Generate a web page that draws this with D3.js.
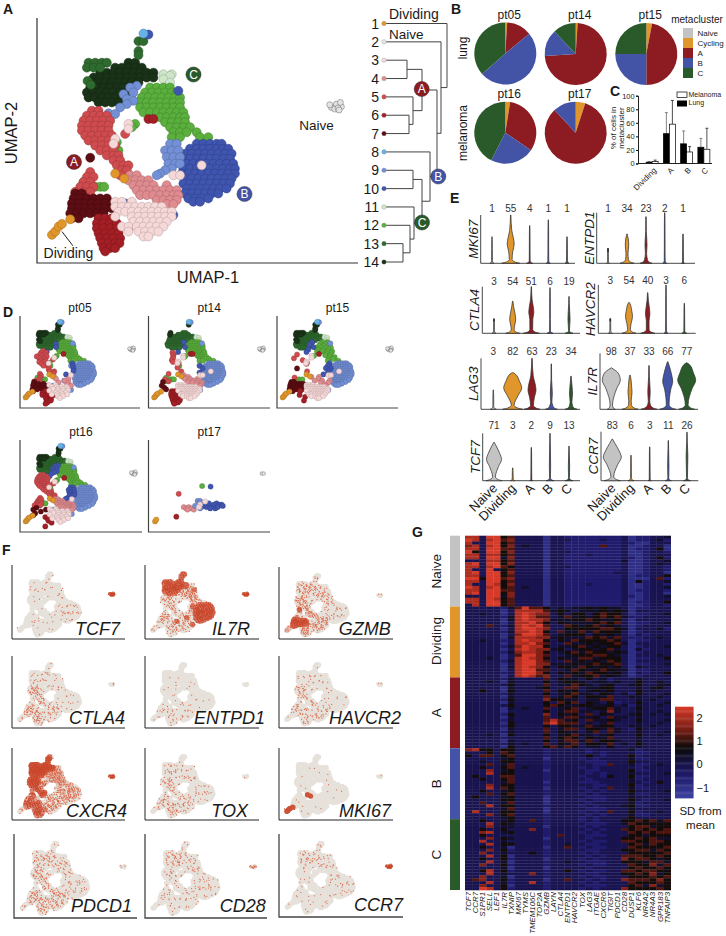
<!DOCTYPE html>
<html><head><meta charset="utf-8">
<script src="https://cdn.jsdelivr.net/npm/d3@7/dist/d3.min.js"></script>
<style>html,body{margin:0;padding:0;background:#fff}svg{display:block}text{font-family:"Liberation Sans",Arial,sans-serif;fill:#1a1a1a}</style>
</head><body><div id="c"></div>
<script>
// ---------- DATA ----------
const clusterColors=["#e0962a","#e4e4e4","#f6d8d8","#df8b8f","#cf4b4e","#a31f25","#5d0e14","#67b2e8","#7390d6","#3f55b0","#cfe6c8","#5aaf3d","#2f6a2f","#1a3318"];
// UMAP cells per cluster, as rows: [umap2, umap1, umap1, ...]
const cluster1=[[705,155],[695,165],[680,175],[672,185],[658,210],[520,345],[535,372]];
const cluster2=[[320,995],[310,1010],[318,1025],[325,1005],[305,1022],[322,1015],[312,990],[328,1018]];
const cluster3=[[370,385],[385,385],[415,345],[430,340],[495,605],[525,520,540],[605,345,365,395],[620,345,365,385,405,425,445,465,485],[635,355,375,395,415,435,455,475,495,515],[650,345,395,415,435,455,475,495,515],[665,400,420,440,460,480,500],[680,365,385,410,430,450,470,490],[695,385,415,435,455,475],[710,430,445]];
const cluster4=[[525,390,410],[540,385,405,425,445],[555,400,420,440,460,500],[570,410,430,450,470,490,510,530],[585,420,440,460,480,500,520,535],[600,470,490,510,530],[612,500,520]];
const cluster5=[[330,275,295],[345,260,280,300,320],[360,250,270,290,310,330],[375,245,265,285,305,325],[390,245,265,285,305,325],[400,375],[405,255,275,295,315,335],[420,265,285,305,325],[435,285,305,325,345],[450,300,320,340],[465,320,340,355],[480,340,360],[495,350,370,385],[510,365,380],[525,360],[515,270],[530,260,280],[545,250,270],[560,240,260,280],[575,225,250,270]];
const cluster6=[[655,295,315,335],[670,290,310,330,350],[685,290,310,330,350,385],[700,295,315,335,355],[715,300,320,340,360],[730,305,325,345,358],[745,310,330,345],[755,315],[355,445,460]];
const cluster7=[[472,270],[580,225,245],[595,220,240,260,280,300,320],[610,215,235,255,275,295,315,335],[625,215,235,255,275,295,315,335],[640,210,230,250,270,290,310],[655,215,235]];
const cluster8=[[97,430]];
const cluster9=[[255,410],[260,390],[275,400],[280,370],[295,380],[300,400],[310,380],[320,360],[338,325],[340,345],[430,510,530],[450,495,515,535],[470,500,520,540],[490,505,525,540],[505,515],[510,495],[520,480],[525,470]];
const cluster10=[[100,445],[430,590,610,630,650,665],[445,570,590,610,630,650,670,685],[460,555,575,595,615,635,655,675,695],[475,550,570,590,610,630,650,670,690],[490,545,560,580,600,620,640,660,680,700],[505,550,570,590,610,630,650,670,690,705],[520,545,565,585,605,625,645,665,685,705],[535,555,575,595,615,635,655,675,695],[550,550,570,590,610,630,650,670,690],[565,560,580,600,620,640,660,680],[580,555,575,595,615,635,655],[595,565,585,605,625],[605,580,600],[270,535],[450,520],[570,465],[610,375],[645,520]];
const cluster11=[[220,490,515],[225,510],[235,490],[245,510]];
const cluster12=[[260,450,470,490,510],[275,435,455,475,495,515,530],[290,425,445,465,485,505,525,540],[305,420,440,460,480,500,520,540],[320,420,440,460,480,500,520,540],[335,430,450,470,490,510,530,550],[350,480,500,520,540,555],[365,495,515,535,555],[370,405],[380,510,530,550,570,395],[395,520,540,560,590],[410,515,540,600,625],[425,350],[450,355],[470,625],[545,250],[560,285,300,312],[575,240,265]];
const cluster13=[[120,415,430],[150,415],[162,415],[185,265,285,305,320],[200,260,280,300],[240,262],[252,272]];
const cluster14=[[185,385,405],[200,345,365,385,405,425],[215,300,320,340,360,380,400,420,440,460],[230,280,300,320,340,360,380,400,420,440,460],[245,275,295,315,335,355,375,395,415],[260,270,290,310,330,350,370,390],[275,260,280,300,320,340,360,380],[290,265,285,305,325,345,365],[305,295,315,335,355]];
const drawOrder=[14,13,11,12,10,9,5,7,6,4,3,2,8,1];
const clusterRows=[cluster1,cluster2,cluster3,cluster4,cluster5,cluster6,cluster7,cluster8,cluster9,cluster10,cluster11,cluster12,cluster13,cluster14];

// dendrogram merges: [id, left, right, height]; leaves are 1..14
const dendroMerges=[["m34",3,4,23],["m67",6,7,25],["m567",5,"m67",29],["mA","m34","m567",38],["m910",9,10,29],["m1314",13,14,19],["m12",12,"m1314",26],["m11",11,"m12",30],["mC","m910","m11",38],["m8",8,"mC",46],["mAB","mA","m8",53],["m2",2,"mAB",57],["m1",1,"m2",63]];

// pie shares per patient (Naive, Cycling, A, B, C)
const metaNames=["Naive","Cycling","A","B","C"];
const metaColors=["#c3c3c3","#e0962a","#8c1c22","#4353a6","#2a5a2a"];
const pt05Share=[0,1,13,49.5,36.5];
const pt14Share=[0,1,73,14,12];
const pt15Share=[0,3,47,25,25];
const pt16Share=[0,2.5,32,23,42.5];
const pt17Share=[0,5,83,12,0];
const pieNames=["pt05","pt14","pt15","pt16","pt17"];
const pieShares=[pt05Share,pt14Share,pt15Share,pt16Share,pt17Share];

// bars
const barGroups=["Dividing","A","B","C"];
const lungMean=[2,44,29,24];
const lungErrTop=[3,75,48,37];
const melMean=[3,58,17,21];
const melErrTop=[5,93,25,52];

// patient membership: every n-th cell of each cluster is shown (0 = none)
const pt05Every=[1,1,2,4,2,2,2,1,3,1,2,1,1,1];
const pt14Every=[1,1,1,2,5,1,8,1,4,1,2,1,4,1];
const pt15Every=[1,1,1,3,9,7,1,1,2,1,2,2,1,1];
const pt16Every=[1,1,2,1,1,5,5,1,1,1,2,1,1,1];
const pt17Cells=[[2,1010,320],[2,1025,320],[12,536,420],[9,603,425],[5,350,483],[6,331,667],[1,162,705],[1,172,690],[4,390,590],[4,410,600],[4,430,590],[4,450,600],[4,470,610],[4,420,610],[9,530,590],[9,550,570],[9,570,590],[9,590,560],[9,610,580],[9,630,570],[9,650,560],[9,670,570],[9,690,570],[9,600,600],[9,640,600],[9,660,590],[9,700,580],[10,500,540],[10,520,540],[10,515,555],[10,480,580],[10,520,600],[3,520,570],[3,560,545],[3,510,590]];

// violin plots: top height, foot half-width, bulge level, bulge half-width (Naive, Dividing, A, B, C)
const violinGroups=["Naive","Dividing","A","B","C"];
const vGenes=["MKI67","ENTPD1","CTLA4","HAVCR2","LAG3","IL7R","TCF7","CCR7"];
const vPercent=[[1,55,4,1,1],[1,34,23,2,1],[3,54,51,6,19],[3,54,40,3,6],[3,82,63,23,34],[98,37,33,66,77],[71,3,2,9,13],[83,6,3,11,26]];
const vHeight=[[.55,1,.78,.9,.55],[.28,.58,.92,1,.58],[.32,.69,1,.98,.79],[.31,.64,.84,1,.62],[.38,.72,1,.89,.65],[.74,.61,.78,.85,.83],[.81,.27,.7,1,.73],[.85,.52,.69,.82,.99]];
const vFoot=[[2,9,3,2,2],[1.5,7,6,2,1.5],[2,7,8,3,4],[2,7,7,2,2.5],[3,10,8,6,6],[4,8,8,8,8],[8,2,1.5,4,4],[8,3,1.5,3,3.5]];
const vBulgeAt=[[.3,.4,.3,.3,.3],[.3,.35,.35,.3,.3],[.3,.3,.45,.3,.3],[.3,.35,.4,.3,.3],[.3,.42,.38,.3,.3],[.52,.3,.3,.5,.52],[.45,.2,.3,.3,.3],[.48,.2,.3,.3,.5]];
const vBulge=[[0,3.5,0,0,0],[0,1.7,1,0,0],[0,3,2.5,0,.7],[0,3.5,2.2,0,0],[0,9,4,1,1.5],[9,2,1.2,5,9],[7.5,0,0,.3,.3],[9,0,0,.3,.5]];

// feature plots: share of cells expressing each gene per cluster 1..14
const fGenes=["TCF7","IL7R","GZMB","CTLA4","ENTPD1","HAVCR2","CXCR4","TOX","MKI67","PDCD1","CD28","CCR7"];
const fLevels=[
[.02,.9,.02,.03,.02,.02,.02,.03,.04,.09,.02,.03,.05,.04],
[.3,.9,.25,.2,.28,.22,.16,.9,.5,.9,.5,.5,.9,.9],
[.6,.05,.3,.4,.4,.45,.95,.1,.08,.06,.1,.2,.3,.25],
[.3,.1,.1,.2,.3,.3,.3,.05,.04,.03,.02,.05,.1,.08],
[.05,.02,.05,.08,.02,.1,.1,.01,.05,.01,.01,.01,.01,.01],
[.1,.05,.12,.15,.2,.15,.15,.02,.05,.02,.02,.03,.05,.05],
[.4,.8,.4,.5,.95,.8,.8,.8,.5,.4,.6,.6,1,1],
[.1,.03,.15,.15,.2,.2,.2,.05,.06,.04,.05,.07,.1,.1],
[1,.01,.01,.01,.01,.02,.01,.01,.01,.01,.01,.01,.01,.01],
[.3,.1,.25,.35,.3,.3,.3,.1,.12,.08,.1,.15,.2,.2],
[.05,.5,.07,.1,.1,.06,.06,.1,.1,.08,.1,.12,.2,.2],
[.02,.9,.03,.03,.03,.03,.03,.1,.08,.07,.1,.08,.15,.15]];

// heatmap
const hmGenes=["TCF7","CCR7","S1PR1","SELL","LEF1","IL7R","TXNIP","MKI67","TYMS","TMEM106C","TOP2A","GZMB","LAYN","CTLA4","ENTPD1","HAVCR2","TOX","LAG3","ITGAE","CXCR6","TIGIT","PDCD1","CD28","DUSP1","KLF6","NR4A2","NR4A3","GPR183","TNFAIP3"];
const hmGroups=["Naive","Dividing","A","B","C"];
// one digit per gene, 0 (lowest) to 9 (highest)
const hmNaive=["88399 56 3333 1 3322 222222 3 12 2334","98389 67 3333 1 3332 222322 3 12 2342","83399 56 3333 1 3322 222222 3 21 1333","78389 57 3433 1 3322 222622 3 11 2331","88399 66 3333 1 3322 222222 3 12 2351","95399 57 3333 1 3332 222222 3 11 2332","88388 56 3333 1 3322 232222 3 11 2333","88399 47 3333 1 3322 222222 3 21 2352","33388 56 3333 1 3322 222222 4 11 2334","89399 57 3333 1 3322 222222 3 11 2343","88389 65 3333 1 3332 222222 3 11 2332","83393 56 3333 1 3322 222222 3 11 2332","89399 57 3333 1 3322 222223 3 11 2331","88399 56 3333 1 3322 222222 3 12 2335","99599 67 3333 1 3322 222222 3 11 1362","88399 56 3333 1 3322 222222 3 15 2334","83398 57 3333 1 3322 232222 3 11 2332","98389 56 3433 1 3322 222222 3 11 2334","88399 66 3333 1 3322 222222 3 12 2332","89399 57 3333 1 3322 222222 3 11 2331","33399 47 3333 1 3322 222222 3 21 2334","88398 56 3333 1 3322 222222 3 11 2333","88399 56 3333 1 3322 222222 3 12 2335","38399 56 3333 1 3322 222222 3 11 2332"];
const hmDividing=["33333 24 6966 5 3434 454544 3 12 2333","33333 13 8888 6 4543 444545 4 13 3333","33433 13 8987 7 3535 535655 3 12 2334","33333 24 8986 6 3464 545656 4 22 3333","33333 14 8988 7 4445 565445 3 13 3333","33333 13 8897 5 3544 445656 3 12 2334","33363 24 8989 6 3365 456454 3 12 3333","33333 13 8998 7 3355 555665 4 13 3342","33333 24 8898 5 3644 646555 3 12 3333","33333 13 7998 6 3455 535454 3 13 2333","33333 14 8887 7 4544 465646 3 22 3343","33433 23 8988 5 3546 555565 3 12 2333","33333 13 8897 6 3364 454556 4 13 3333","33333 24 7988 5 3445 645455 3 12 3334","33333 13 8987 7 4534 554564 3 14 2333","33333 24 7887 5 3456 465545 4 12 3333","33333 13 6997 6 3345 556654 3 13 3343","33343 13 8987 5 3544 664555 3 12 2335","33333 24 8997 6 3364 545465 3 13 3333","33333 13 8997 7 4445 456556 3 12 2334","33333 14 8987 5 3554 654545 3 14 3333","33333 13 8996 6 3346 545654 4 12 2333","33333 23 8997 5 3545 465545 3 13 2335","33333 13 8986 7 3364 556454 3 12 3333"];
const hmA=["33333 24 3333 6 3544 353423 3 34 3333","33343 14 3333 5 3455 434434 3 35 3343","33333 35 3333 6 3446 543453 3 45 3344","33333 14 3334 5 3366 344553 3 34 3453","33533 15 3333 6 3545 345453 3 35 3433","33333 24 3333 5 3456 443543 4 25 3334","33333 14 3333 6 3465 355463 3 44 3343","33333 25 3333 7 5544 344663 3 34 3433","33333 14 3333 5 3656 354352 3 35 3334","33333 35 3333 5 6544 554453 4 24 3343","33333 14 3433 6 3456 345564 3 35 3333","33333 13 3333 5 3466 443474 3 34 3343","33333 25 3333 7 3545 363543 3 45 3434","33333 14 3333 6 3466 445364 4 34 3333","33333 24 3333 6 8645 364454 3 35 3334","33333 15 3333 7 9666 343463 3 34 3343","33333 25 3333 5 3554 464553 3 44 3433","33333 14 3333 6 3466 355464 3 25 3333","33333 24 3333 6 3544 346364 3 34 3334","33343 15 3333 5 3456 443453 3 35 3343","33333 23 3333 6 3565 354463 3 34 3333","33333 14 3333 5 3466 463554 3 34 3333","33333 24 3433 6 3546 355463 4 35 3333","33333 15 3333 5 6465 344353 3 34 3333"];
const hmB=["78553 55 3333 2 3333 323333 3 42 3333","33353 65 3333 2 3333 323233 3 32 2333","53663 56 3333 2 3333 353233 3 52 3333","33333 45 3333 1 3333 232333 3 42 2333","33433 55 3333 2 3333 322233 3 53 3333","33363 46 3333 2 3333 332263 3 42 2343","33533 56 3433 2 3333 232333 3 32 3333","33373 45 3333 1 3333 322333 3 52 2333","33383 55 3333 2 3333 323233 3 43 3334","35333 66 3333 2 3333 233253 3 52 2333","33533 56 3333 2 3333 323333 3 42 3333","33333 46 3333 1 3333 222333 3 43 2353","33373 55 3333 2 3333 332233 3 52 3333","33383 65 3333 1 3333 232363 3 42 2333","33533 45 3333 2 3333 323233 3 53 3334","33363 56 3333 2 3333 232333 3 42 2333","35333 45 3333 1 3333 322233 3 43 3333","33333 55 3333 1 3333 232233 3 53 2334","33633 46 3333 1 3333 323333 3 42 3333","33383 55 3333 2 3333 232333 4 52 2333","33333 46 3333 1 3333 322233 3 43 3333","38333 55 3333 1 3333 232363 3 52 3343","33373 56 3333 2 3333 323233 3 42 2333","33333 45 3333 2 3333 232333 3 53 3333"];
const hmC=["33533 45 3363 2 3333 232333 5 56 5646","33383 54 3333 2 3333 322233 4 65 5555","33373 44 3333 1 3333 232333 3 56 6455","33533 53 3373 2 3333 323233 6 56 5656","33783 45 3333 2 3333 232333 3 65 6566","33533 33 3333 2 3633 322233 3 55 4555","33373 54 3333 1 3333 323333 5 56 5644","33833 43 3333 2 3333 232233 6 65 5665","33383 55 3333 2 3343 322333 3 56 4655","33533 41 3333 1 3363 232233 3 65 5556","33373 52 3333 2 3333 322333 5 56 6465","33733 43 3353 2 3333 232333 3 55 5556","33383 51 3333 2 3333 323233 6 66 5565","33533 52 3333 1 3333 232333 7 56 6545","33383 41 3333 2 3343 322233 5 55 4664","33733 52 3333 2 3333 232233 3 65 5746","33333 41 3333 1 3333 323333 3 56 5565","33583 52 3333 2 3353 232233 6 65 6655","33383 43 3373 2 3333 322333 5 56 5745","33733 41 3333 2 3333 232233 3 55 5656","36733 52 3333 1 3363 323233 7 66 6575","33383 42 3383 2 3333 232333 3 65 5565","33733 51 3333 2 3333 322233 3 56 4745","33983 52 3333 2 3333 232333 7 55 5565"];
const hmGroupRows=[hmNaive,hmDividing,hmA,hmB,hmC];
const legendTicks=[-1,0,1,2];

// ---------- DRAWING ----------
const svg=d3.select("#c").append("svg").attr("width",726).attr("height",936);
const txt=(g,x,y,s,o={})=>{const t=g.append("text").attr("x",x).attr("y",y).text(s).attr("font-size",o.fs||10).attr("text-anchor",o.a||"start");
 if(o.b)t.attr("font-weight","bold");if(o.i)t.attr("font-style","italic");if(o.fill)t.style("fill",o.fill);
 if(o.r!==undefined)t.attr("transform",`rotate(${o.r},${x},${y})`);return t;};
const lAxis=(g,x0,x1,y0,y1,c="#333",w=1)=>g.append("path").attr("d",`M${x0},${y0}V${y1}H${x1}`).attr("fill","none").attr("stroke",c).attr("stroke-width",w);
const cells=[];clusterRows.forEach((rows,ci)=>rows.forEach(r=>r.slice(1).forEach(x=>cells.push({c:ci+1,x,y:r[0]}))));
cells.forEach((d,i)=>d.i=i);
const ordered=drawOrder.flatMap(c=>cells.filter(d=>d.c===c));
const UX=[110,1075],UY=[50,790];
[["A",3,14],["B",451,14],["C",610,96],["D",3,317],["E",450,203],["F",2,555],["G",412,537]].forEach(d=>txt(svg,d[1],d[2],d[0],{fs:14,b:1}));

// A
{const g=svg.append("g"),xs=d3.scaleLinear(UX,[37,358]),ys=d3.scaleLinear(UY,[18,263]);
 lAxis(g,37,358,18,263,"#333",1.2);
 g.selectAll("circle.u").data(ordered).join("circle").attr("cx",d=>xs(d.x)).attr("cy",d=>ys(d.y)).attr("r",d=>d.c===2?3:4.5)
  .attr("fill",d=>clusterColors[d.c-1]).attr("stroke",d=>d.c===2?"#666":d3.color(clusterColors[d.c-1]).darker(.9)).attr("stroke-width",.5);
 txt(g,208,283,"UMAP-1",{fs:16.5,a:"middle"});txt(g,17,133,"UMAP-2",{fs:16.5,a:"middle",r:-90});
 txt(g,316.5,130,"Naive",{fs:13.5,a:"middle"});txt(g,68.5,258,"Dividing",{fs:14,a:"middle"});
 g.append("line").attr("x1",xs(185)).attr("y1",ys(695)).attr("x2",xs(218)).attr("y2",ys(738)).attr("stroke","#222");
 const badge=(gg,x,y,l,c)=>{gg.append("circle").attr("cx",x).attr("cy",y).attr("r",7.6).attr("fill",c).attr("stroke","#222").attr("stroke-width",.4);
  txt(gg,x,y+4.2,l,{fs:12,a:"middle",fill:"#fff"});};
 badge(g,74,162,"A","#8c1c22");badge(g,244.5,194,"B","#4353a6");badge(g,193.5,74.5,"C","#2a5a2a");
 // dendrogram
 const dy=d3.scaleLinear([1,14],[23.5,262]),dx=d3.scaleLinear([0,63],[384,447]);
 const pos={};d3.range(1,15).forEach(i=>pos[i]={x:dx(0),y:dy(i)});
 const dg=g.append("g").attr("fill","none").attr("stroke","#444").attr("stroke-width",1);
 dendroMerges.forEach(m=>{const a=pos[m[1]],b=pos[m[2]],x=dx(m[3]);pos[m[0]]={x,y:(a.y+b.y)/2};
  dg.append("path").attr("d",`M${a.x},${a.y}H${x}V${b.y}H${b.x}`);});
 d3.range(1,15).forEach(i=>{g.append("circle").attr("cx",dx(0)).attr("cy",dy(i)).attr("r",2.3).attr("fill",clusterColors[i-1]).attr("stroke","#888").attr("stroke-width",.3);
  txt(g,379,dy(i)+5,i,{fs:14,a:"end"});});
 txt(g,389,19.3,"Dividing",{fs:14});txt(g,389,39,"Naive",{fs:13.5});
 badge(g,421.7,89,"A","#8c1c22");badge(g,438.3,176.5,"B","#4353a6");badge(g,422,222.5,"C","#2a5a2a");
}
// B
{const g=svg.append("g"),pie=d3.pie().sort(null).value(d=>d),arc=d3.arc().innerRadius(0).outerRadius(31);
 const centres=[[505.3,53.5],[575.7,54],[646.3,54],[505.3,132.7],[575.7,132.7]];
 pieNames.forEach((n,i)=>{const pg=g.append("g").attr("transform",`translate(${centres[i]})`);
  pg.selectAll("path").data(pie(pieShares[i])).join("path").attr("d",arc).attr("fill",(d,j)=>metaColors[j]);
  txt(g,centres[i][0]+4,i<3?18.5:98,n,{fs:12,a:"middle"});});
 txt(g,467,48,"lung",{fs:12,a:"middle",r:-90});txt(g,467,133,"melanoma",{fs:12,a:"middle",r:-90});
 txt(g,697,22.5,"metacluster",{fs:10,a:"middle"});
 metaNames.forEach((n,i)=>{g.append("rect").attr("x",683).attr("y",28+i*10).attr("width",10).attr("height",10).attr("fill",metaColors[i]);
  txt(g,697.5,35.5+i*10,n,{fs:8});});
}
// C
{const g=svg.append("g"),y=d3.scaleLinear([0,100],[163.5,95.7]),x=d3.scaleBand(barGroups,[643.5,712.5]);
 const w=6;
 barGroups.forEach((n,i)=>{const c=x(n)+x.bandwidth()/2;
  [[lungMean[i],lungErrTop[i],c-w,"#000","#666"],[melMean[i],melErrTop[i],c,"#fff","#222"]].forEach(s=>{
   g.append("line").attr("x1",s[2]+w/2).attr("x2",s[2]+w/2).attr("y1",y(s[0])).attr("y2",y(s[1])).attr("stroke",s[4]).attr("stroke-width",.8);
   g.append("line").attr("x1",s[2]+w/2-1.5).attr("x2",s[2]+w/2+1.5).attr("y1",y(s[1])).attr("y2",y(s[1])).attr("stroke",s[4]).attr("stroke-width",.8);
   g.append("rect").attr("x",s[2]).attr("width",w).attr("y",y(s[0])).attr("height",y(0)-y(s[0])).attr("fill",s[3]).attr("stroke","#000").attr("stroke-width",.7);});
  const t=txt(g,c+2,168,n,{fs:8,a:"end",r:-45});t.attr("dy",".5em");});
 const ag=g.append("g").attr("transform","translate(638,0)").call(d3.axisLeft(y).tickValues([0,20,40,60,80,100]).tickSize(2).tickPadding(1.5));
 ag.selectAll("text").attr("font-size",7.4).attr("font-family","Liberation Sans");ag.select(".domain").attr("stroke","#222");
 g.append("line").attr("x1",638).attr("x2",712).attr("y1",163.5).attr("y2",163.5).attr("stroke","#222");
 txt(g,615.5,128,"% of cells in",{fs:8,a:"middle",r:-90});txt(g,624,128,"metacluster",{fs:8,a:"middle",r:-90});
 g.append("rect").attr("x",677).attr("y",92).attr("width",10).attr("height",5.5).attr("fill","#fff").attr("stroke","#000").attr("stroke-width",.7);
 g.append("rect").attr("x",677).attr("y",100.5).attr("width",10).attr("height",6).attr("fill","#000");
 txt(g,688.5,96.7,"Melanoma",{fs:7});txt(g,688.5,105,"Lung",{fs:7});
}
// D
{const g=svg.append("g");
 const dColors=clusterColors.slice();dColors[13]=clusterColors[12];dColors[12]=clusterColors[13];dColors[9]=clusterColors[8];dColors[8]=clusterColors[9];
 const panels=[["pt05",pt05Every,20,140,316,408],["pt14",pt14Every,148.5,270,316,408],["pt15",pt15Every,277,398,316,408],["pt16",null,20,142,440,532],["pt17",null,148.5,270,440,532]];
 panels.forEach((p,pi)=>{const [n,ev,x0,x1,y0,y1]=p,xs=d3.scaleLinear(UX,[x0,x1]),ys=d3.scaleLinear(UY,[y0,y1]);
  lAxis(g,x0,x1,y0,y1,"#444",1.2);txt(g,(x0+x1)/2,y0-4,n,{fs:12,a:"middle"});
  let pts;
  if(n==="pt17")pts=pt17Cells.map(d=>({c:d[0],x:d[1],y:d[2]}));
  else{const e=n==="pt16"?pt16Every:ev;pts=ordered.filter(d=>{const st=e[d.c-1];return st>0&&(d.i%st)===0;});}
  g.append("g").selectAll("circle").data(pts).join("circle").attr("cx",d=>xs(d.x)).attr("cy",d=>ys(d.y)).attr("r",d=>d.c===2?1.8:2.6)
   .attr("fill",d=>dColors[d.c-1]).attr("stroke",d=>d.c===2?"#555":d3.color(dColors[d.c-1]).darker(.9)).attr("stroke-width",.4);
 });
}
// E
{const g=svg.append("g");
 const panels=[[480.7,575,215,263.3,[492,510.7,529.7,548.3,567]],[596.7,695,212.7,263.3,[608,627,646,664.7,683]],[482.3,580,286.7,333.3,[494,512.7,531.3,550,569]],[598.3,695.7,285,333.3,[610.3,629,647.7,666,684.3]],[481,580,358.3,409.3,[493.3,512.7,532,551.3,571]],[600,698,353.3,409.3,[611.3,630,649,667.7,686.7]],[482.7,580,433.3,480.7,[494,512.7,531.3,550,569]],[601,698.3,431.7,480.7,[612.3,631,649.7,668.3,687]]];
 const labelY=[212,212,284.5,283.5,355,355,429,429];
 panels.forEach((p,k)=>{const [x0,x1,y0,y1,cx]=p,y=d3.scaleLinear([0,1],[y1,y0]);
  lAxis(g,x0,x1,y0,y1,"#333",.9);
  txt(g,x0-3,(y0+y1)/2,vGenes[k],{fs:13.5,a:"middle",i:1,r:-90});
  violinGroups.forEach((n,i)=>{const h=vHeight[k][i],f=vFoot[k][i],b=vBulge[k][i],at=vBulgeAt[k][i];
   const prof=b>.8?[[0,f],[.025,f*.5],[.08,Math.min(1.4,f*.3)],[at-.15,b*.6],[at,b],[at+.13,b*.75],[Math.min(at+.28,h-.03),b*.3],[h,.2]]
                  :[[0,f],[.02,f*.35],[.06,.45],[Math.max(at,.1),.35+b],[h*.8,.3],[h,.15]];
   const area=d3.area().y(d=>y(d[0])).x0(d=>cx[i]-d[1]).x1(d=>cx[i]+d[1]).curve(d3.curveMonotoneY);
   g.append("path").attr("d",area(prof)).attr("fill",metaColors[i]).attr("stroke","#333").attr("stroke-width",.75);
   txt(g,cx[i],labelY[k],vPercent[k][i],{fs:10,a:"middle",fill:"#333"});
   if(k>=6)txt(g,cx[i]+4,489,n,{fs:13,a:"end",r:-45});
  });
 });
}
// F
{const g=svg.append("g");
 const panels=[[12,125,565,639,120,635],[145,259,565,639,250,635],[279,393,567,639,390.7,635],[12,125,656,728,125,724],[145,259,656,728,265,724],[279,393,656,728,401,724],[12,125,748,820,127,817],[145,259,748,820,248,817],[279,393,748,820,391,817],[14,137,834,918,132,911.7],[145,267,834,918,265.7,911.7],[279,403,834,917,403,911]];
 const g1=.6180339887,g2=.7548776662,baseMix=d3.interpolateRgb("#e6e1da","#d05a3e");
 panels.forEach((p,k)=>{const [x0,x1,y0,y1,tx,ty]=p,xs=d3.scaleLinear(UX,[x0+3,x1-6]),ys=d3.scaleLinear(UY,[y0+4.5,y1-1]);
  const pg=g.append("g");
  pg.selectAll("circle").data(cells).join("circle").attr("cx",d=>xs(d.x)).attr("cy",d=>ys(d.y)).attr("r",d=>d.c===2?1.7:2.7).attr("fill","#e6e1da");
  pg.append("g").selectAll("circle").data(cells.filter(d=>fLevels[k][d.c-1]>.5)).join("circle").attr("cx",d=>xs(d.x)).attr("cy",d=>ys(d.y)).attr("r",d=>d.c===2?1.7:2.7).attr("fill",d=>baseMix((fLevels[k][d.c-1]-.5)*2));
  const spk=[];cells.forEach(d=>d3.range(4).forEach(j=>{const n=d.i*4+j,lv=fLevels[k][d.c-1];
   if(((n+k*7)*g1)%1<lv){const sp=d.c===2?1.4:2.4;spk.push({x:xs(d.x)+(((n*g2)%1)-.5)*2*sp,y:ys(d.y)+(((n*g2*g1)%1)-.5)*2*sp,lv});}}));
  g.append("g").selectAll("circle").data(spk).join("circle").attr("cx",d=>d.x).attr("cy",d=>d.y).attr("r",.62).attr("fill",d=>d.lv>=.75?"#c9462c":"#dd6a4c");
  lAxis(g,x0,x1,y0,y1,k>=9?"#444":"#222",k>=9?1.3:1);
  txt(g,tx,ty,fGenes[k],{fs:18,a:"end",i:1});
 });
}
// G
{const g=svg.append("g"),X0=465,X1=670.7,Y0=535.7,Y1=890;
 const gh=(Y1-Y0)/5;
 const rows=hmGroupRows.flatMap((rs,gi)=>rs.map((r,ri)=>({gi,ri,s:r.replace(/ /g,"")})));
 const x=d3.scaleBand(hmGenes,[X0,X1]),y=d3.scaleBand(d3.range(rows.length),[Y0,Y1]);
 const lv=d3.scaleLinear([0,9],[-1.4,2.5]);
 const col=d3.scaleLinear([-1.45,-.5,0,.7,1.4,2.5],["#3c41a0","#1f1a6a","#17134a","#0a0a0a","#6b1a12","#d83a2a"]);
 rows.forEach((r,ri)=>{g.append("g").selectAll("rect").data(hmGenes).join("rect").attr("x",d=>x(d)).attr("y",y(ri)).attr("width",x.bandwidth()+.3).attr("height",y.bandwidth()+.3).attr("fill",(d,j)=>col(lv(+r.s[j])));});
 hmGroups.forEach((n,i)=>{g.append("rect").attr("x",450).attr("y",Y0+i*gh).attr("width",10).attr("height",gh).attr("fill",metaColors[i]);
  txt(g,440.7,Y0+i*gh+gh/2+(i===1?-1:0),n,{fs:13.5,a:"middle",r:-90});});
 hmGenes.forEach(n=>g.append("text").text(n).attr("font-size",7).attr("font-style","italic").attr("text-anchor","end")
   .attr("transform",`translate(${x(n)+x.bandwidth()/2+2.5},892) rotate(-90) scale(1.12,1)`));
 const cy=d3.scaleLinear([-1.45,2.5],[798,706.7]);
 const sq=d3.range(-1.45,2.5,.05);
 g.append("g").selectAll("rect").data(sq).join("rect").attr("x",675).attr("width",18.5).attr("y",d=>cy(d+.05)).attr("height",d=>cy(d)-cy(d+.05)+.4).attr("fill",d=>col(d));
 legendTicks.forEach(t=>txt(g,696.5,cy(t)+4,t<0?"\u2212"+Math.abs(t):t,{fs:11}));
 txt(g,700.5,815,"SD from",{fs:11.5,a:"middle"});txt(g,700.5,829,"mean",{fs:11.5,a:"middle"});
}
</script></body></html>
